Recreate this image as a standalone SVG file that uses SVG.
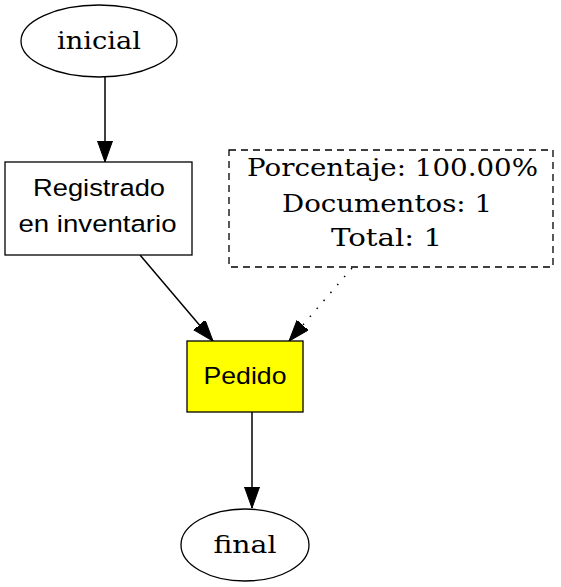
<svg xmlns="http://www.w3.org/2000/svg" width="561" height="587" viewBox="0 0 561 587">
<style>
.serif{font-family:"DejaVu Serif","Liberation Serif",serif;font-size:23.5px;fill:#000}
.sans{font-family:"Liberation Sans",Arial,sans-serif;font-size:24.5px;fill:#000}
.shape{fill:#fff;stroke:#000;stroke-width:1.3}
.edge{fill:none;stroke:#000;stroke-width:1.5}
</style>
<defs>
<marker id="arr" markerUnits="userSpaceOnUse" markerWidth="22" markerHeight="16" refX="21" refY="7.5" orient="auto">
<path d="M0,0 L21,7.5 L0,15 Z" fill="#000" stroke="#000" stroke-width="1"/>
</marker>
</defs>
<rect width="561" height="587" fill="#fff"/>
<g id="edges">
<line class="edge" x1="105" y1="77" x2="105" y2="162" marker-end="url(#arr)"/>
<line class="edge" x1="140" y1="255" x2="213" y2="341" marker-end="url(#arr)"/>
<line class="edge" x1="352" y1="268" x2="289" y2="341" stroke-dasharray="1.5,9" marker-end="url(#arr)"/>
<line class="edge" x1="252" y1="412" x2="252" y2="508" marker-end="url(#arr)"/>
</g>
<g id="inicial">
<ellipse class="shape" cx="99" cy="41" rx="78" ry="36"/>
<text class="serif" x="57" y="48.5" textLength="84" lengthAdjust="spacingAndGlyphs">inicial</text>
</g>
<g id="registrado">
<rect class="shape" x="5" y="162" width="187" height="93"/>
<text class="sans" x="33" y="196" textLength="132" lengthAdjust="spacingAndGlyphs">Registrado</text>
<text class="sans" x="18.5" y="231.5" textLength="158" lengthAdjust="spacingAndGlyphs">en inventario</text>
</g>
<g id="stats">
<rect class="shape" x="229" y="150" width="324" height="117" stroke-dasharray="7,5"/>
<text class="serif" x="247" y="176" textLength="291" lengthAdjust="spacingAndGlyphs">Porcentaje: 100.00%</text>
<text class="serif" x="282" y="211.5" textLength="210" lengthAdjust="spacingAndGlyphs">Documentos: 1</text>
<text class="serif" x="331" y="245.5" textLength="111" lengthAdjust="spacingAndGlyphs">Total: 1</text>
</g>
<g id="pedido">
<rect class="shape" x="187" y="341" width="116" height="71" style="fill:#ffff00"/>
<text class="sans" x="203.5" y="383.5" textLength="83" lengthAdjust="spacingAndGlyphs">Pedido</text>
</g>
<g id="final">
<ellipse class="shape" cx="245" cy="545" rx="64" ry="36"/>
<text class="serif" x="213.5" y="552.5" textLength="63" lengthAdjust="spacingAndGlyphs">final</text>
</g>
</svg>
